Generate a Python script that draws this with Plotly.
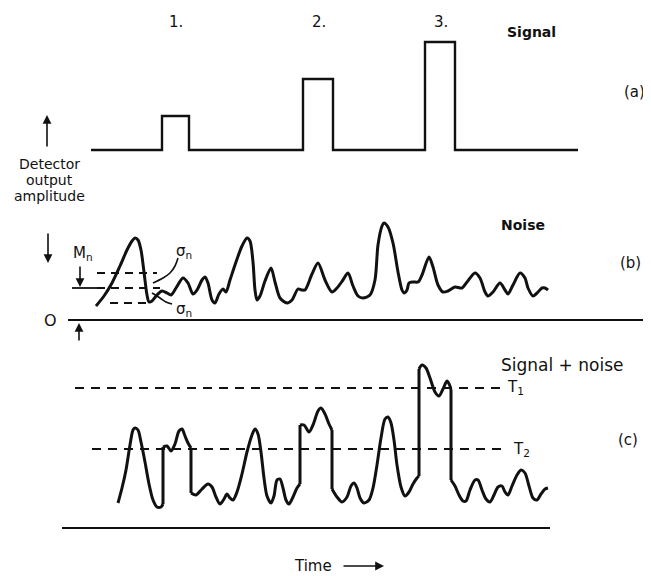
import plotly.graph_objects as go

# ---------------- data ----------------
# (a) signal pulses
pulse_start = [162, 303, 425]
pulse_end = [189, 333, 455]
signal_amp = [34, 71, 108]
pulse_labels = ["1.", "2.", "3."]

# (b) noise (time, amplitude above zero line)
noise_t = [96, 104, 112, 120, 127, 132, 135, 138, 141, 144, 147, 149, 152, 157, 162, 167, 171, 176, 183, 188,
           193, 197, 202, 205, 208, 212, 215, 219, 223, 226, 230, 236, 242, 247, 250, 253, 255, 257, 260, 265,
           271, 275, 280, 287, 292, 298, 302, 305, 312, 318, 325, 332, 337, 343, 348, 353, 358, 363, 370, 375,
           378, 382, 384, 388, 393, 398, 402, 404, 407, 409, 413, 418, 422, 429, 433, 438, 443, 448, 455, 462,
           467, 475, 480, 485, 488, 493, 500, 505, 508, 513, 520, 525, 528, 533, 538, 542, 545, 548]
noise_amp = [14, 24, 37, 54, 70, 79, 82, 80, 70, 48, 25, 18, 19, 25, 29, 27, 25, 32, 42, 37,
             26, 30, 40, 43, 37, 20, 17, 26, 31, 28, 40, 58, 74, 82, 79, 58, 30, 20, 24, 39,
             52, 38, 22, 17, 20, 31, 30, 30, 46, 57, 40, 28, 32, 40, 47, 34, 24, 22, 25, 40,
             75, 94, 97, 93, 77, 48, 30, 27, 30, 37, 38, 38, 45, 63, 53, 35, 28, 29, 33, 32,
             38, 47, 42, 28, 24, 28, 37, 30, 26, 35, 47, 42, 32, 24, 28, 32, 32, 30]
noise_mean = 32
noise_sigma = 15

# (c) signal + noise (repeated time value = vertical pulse edge)
sn_t = [118, 122, 126, 130, 133, 135, 138, 141, 145, 149, 153, 157, 161, 163, 163, 167, 171, 175, 179, 182,
        185, 188, 191, 191, 196, 202, 208, 212, 216, 220, 224, 227, 230, 233, 237, 242, 247, 252, 255, 258,
        261, 264, 267, 271, 274, 277, 280, 283, 286, 289, 293, 297, 300, 300, 304, 309, 313, 318, 321, 325,
        329, 332, 332, 337, 342, 347, 351, 354, 357, 360, 364, 369, 373, 377, 381, 385, 388, 391, 394, 397,
        401, 405, 409, 413, 417, 419, 419, 422, 426, 430, 435, 439, 443, 447, 450, 451, 451, 455, 459, 463,
        466, 470, 475, 478, 482, 486, 490, 494, 498, 502, 505, 508, 512, 517, 521, 525, 529, 533, 537, 541,
        545, 548]
sn_amp = [25, 40, 58, 83, 98, 100, 98, 86, 66, 44, 28, 21, 21, 24, 81, 82, 77, 84, 97, 99,
          92, 85, 80, 35, 33, 39, 44, 41, 31, 24, 29, 34, 30, 28, 36, 54, 76, 93, 99, 94,
          76, 50, 32, 25, 32, 48, 49, 40, 28, 24, 31, 40, 44, 103, 103, 96, 103, 117, 120, 114,
          104, 98, 39, 31, 26, 31, 42, 45, 40, 30, 25, 28, 40, 63, 90, 109, 111, 105, 88, 63,
          41, 32, 36, 44, 50, 52, 159, 163, 160, 150, 136, 132, 139, 147, 142, 138, 48, 42, 33, 27,
          27, 38, 48, 48, 38, 29, 26, 33, 41, 42, 36, 33, 42, 53, 58, 55, 42, 30, 28, 34,
          39, 40]
threshold_T1 = 140
threshold_T2 = 79

# ---------------- figure ----------------
# The page body keeps its default 8px margin, so the figure is drawn 8px
# smaller and its axes are offset by 8px; 1 axis unit = 1 screen pixel.
PAGE_W, PAGE_H, PAD = 651, 576, 8
W, H = PAGE_W - PAD, PAGE_H - PAD
INK = "#111111"
FONT = "DejaVu Sans"

# panel pixel bands on screen (top, bottom, baseline)
bands = {"y": (PAD, 200, 150), "y2": (200, 345, 320), "y3": (345, PAGE_H, 528)}

fig = go.Figure()
layout_axes = {}
for key, (top, bot, base) in bands.items():
    name = "yaxis" if key == "y" else "yaxis" + key[1:]
    layout_axes[name] = dict(domain=[(H - (bot - PAD)) / H, (H - (top - PAD)) / H],
                             range=[base - bot, base - top], visible=False, fixedrange=True)


def line(x, y, yref, width=2.6, dash=None, shape="linear", smoothing=1.0):
    fig.add_trace(go.Scatter(x=x, y=y, yaxis=yref, mode="lines", hoverinfo="skip", cliponaxis=False,
                             line=dict(color=INK, width=width, dash=dash, shape=shape,
                                       smoothing=smoothing)))


def text(x, y, yref, s, size=14, bold=False):
    fig.add_annotation(x=x, y=y, xref="x", yref=yref, text=("<b>%s</b>" % s) if bold else s,
                       showarrow=False, font=dict(family=FONT, size=size, color=INK))


def arrow(x0, y0, x1, y1, yref):
    fig.add_annotation(x=x1, y=y1, ax=x0, ay=y0, xref="x", yref=yref, axref="x", ayref=yref,
                       text="", showarrow=True, arrowhead=2, arrowsize=1.1, arrowwidth=1.6,
                       arrowcolor=INK)


# (a) signal
xs, ys = [91], [0]
for s, e, a in zip(pulse_start, pulse_end, signal_amp):
    xs += [s, s, e, e]
    ys += [0, a, a, 0]
xs.append(578)
ys.append(0)
line(xs, ys, "y", width=2.4)
for s, e, lab in zip(pulse_start, pulse_end, pulse_labels):
    text((s + e) / 2 + 0.5, 128, "y", lab, size=15)
text(531, 118, "y", "Signal", size=14, bold=True)
text(634, 58, "y", "(a)", size=15)
arrow(47, 2, 47, 35, "y")
text(49, -14, "y", "Detector", size=14)
text(49, -30, "y", "output", size=14)
text(49, -46, "y", "amplitude", size=14)

# (b) noise
arrow(48, 88, 48, 57, "y2")
line([68, 645], [0, 0], "y2", width=2.2)
text(50, 0, "y2", "O", size=16)
arrow(79, -22, 79, -3, "y2")
line([72, 97], [noise_mean, noise_mean], "y2", width=1.8)
line([97, 160], [noise_mean, noise_mean], "y2", width=1.8, dash="8px,6px")
line([97, 157], [noise_mean + noise_sigma, noise_mean + noise_sigma], "y2", width=1.8, dash="8px,6px")
line([110, 150], [noise_mean - noise_sigma, noise_mean - noise_sigma], "y2", width=1.8, dash="8px,6px")
arrow(80, 55, 80, noise_mean + 1, "y2")
text(83, 67, "y2", "M<sub>n</sub>", size=15)
line([153, 163, 170, 175, 178], [37, 42, 47, 54, 62], "y2", width=1.6, shape="spline")
line([152, 160, 166, 172], [27, 22, 18, 16], "y2", width=1.6, shape="spline")
text(184, 69, "y2", "σ<sub>n</sub>", size=15)
text(184, 11, "y2", "σ<sub>n</sub>", size=15)
line(noise_t, noise_amp, "y2", width=3.0, shape="spline", smoothing=0.8)
text(523, 95, "y2", "Noise", size=14, bold=True)
text(630, 57, "y2", "(b)", size=15)

# (c) signal + noise
line([75, 500], [threshold_T1, threshold_T1], "y3", width=1.8, dash="9px,7px")
line([92, 508], [threshold_T2, threshold_T2], "y3", width=1.8, dash="9px,7px")
run_x, run_y = [sn_t[0]], [sn_amp[0]]
for i in range(1, len(sn_t)):
    if sn_t[i] == sn_t[i - 1]:
        line(run_x, run_y, "y3", width=3.0, shape="spline", smoothing=0.8)
        line([sn_t[i - 1], sn_t[i]], [sn_amp[i - 1], sn_amp[i]], "y3", width=3.0)
        run_x, run_y = [sn_t[i]], [sn_amp[i]]
    else:
        run_x.append(sn_t[i])
        run_y.append(sn_amp[i])
line(run_x, run_y, "y3", width=3.0, shape="spline", smoothing=0.8)
line([62, 550], [0, 0], "y3", width=2.2)
text(562, 163, "y3", "Signal + noise", size=17)
text(515, 140, "y3", "T<sub>1</sub>", size=15)
text(521, 78, "y3", "T<sub>2</sub>", size=15)
text(628, 88, "y3", "(c)", size=15)
text(313, -38, "y3", "Time", size=15)
arrow(342, -38, 384, -38, "y3")

fig.update_layout(width=W, height=H, margin=dict(l=0, r=0, t=0, b=0), showlegend=False,
                  paper_bgcolor="white", plot_bgcolor="white",
                  xaxis=dict(range=[PAD, PAGE_W], visible=False, fixedrange=True), **layout_axes)
fig.write_html("out.html")
